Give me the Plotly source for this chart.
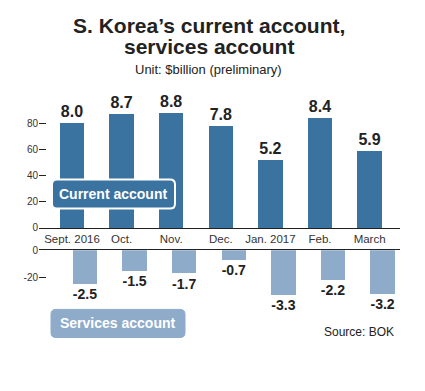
import plotly.graph_objects as go

W, H = 425, 391

months = ["Sept. 2016", "Oct.", "Nov.", "Dec.", "Jan. 2017", "Feb.", "March"]
current_account = [8.0, 8.7, 8.8, 7.8, 5.2, 8.4, 5.9]
services_account = [-2.5, -1.5, -1.7, -0.7, -3.3, -2.2, -3.2]
top_tick_vals = [0, 2, 4, 6, 8]
top_tick_text = ["0", "20", "40", "60", "80"]
bot_tick_vals = [0, -2]
bot_tick_text = ["0", "-20"]

DARK = "#3a72a0"
LIGHT = "#8eabca"
TXT = "#222222"
FONT = "Liberation Sans, Arial, sans-serif"


def px(x):
    return x / W


def py(y):
    return 1 - y / H


xs = list(range(len(months)))

fig = go.Figure()
fig.add_trace(go.Bar(
    x=xs, y=current_account, xaxis="x", yaxis="y",
    marker=dict(color=DARK, line=dict(width=0)), width=0.49,
    text=[f"{v:.1f}" for v in current_account], textposition="outside",
    textfont=dict(family=FONT, size=16, color=TXT, weight="bold"),
    cliponaxis=False, showlegend=False, hoverinfo="skip",
))
fig.add_trace(go.Bar(
    x=xs, y=services_account, xaxis="x2", yaxis="y2",
    marker=dict(color=LIGHT, line=dict(width=0)), width=0.49,
    text=[f"{v:.1f}" for v in services_account], textposition="outside",
    textfont=dict(family=FONT, size=16, color=TXT, weight="bold"),
    cliponaxis=False, showlegend=False, hoverinfo="skip",
))

sp = 49.6  # px per category
x_left, x_right = 39, 400
top_c0 = 72
bot_c0 = 85
top_range = [-(top_c0 - x_left) / sp, 6 + (x_right - (top_c0 + 6 * sp)) / sp]
bot_range = [-(bot_c0 - x_left) / sp, 6 + (x_right - (bot_c0 + 6 * sp)) / sp]

top_scale = 13.5
bot_scale = 14.0
top_y0, top_y1 = 229, 95
bot_y0, bot_y1 = 252, 320

fig.update_layout(
    width=W, height=H,
    margin=dict(l=0, r=0, t=0, b=0),
    paper_bgcolor="white", plot_bgcolor="white",
    bargap=0,
    xaxis=dict(domain=[px(x_left), px(x_right)], range=top_range, anchor="y",
               tickvals=xs, ticktext=months, showgrid=False, zeroline=False,
               showline=True, linecolor=TXT, linewidth=1.5, ticks="",
               tickfont=dict(family=FONT, size=11.5, color="#333333"),
               fixedrange=True),
    yaxis=dict(domain=[py(top_y0), py(top_y1)], range=[0, (top_y0 - top_y1) / top_scale],
               anchor="x",
               tickvals=top_tick_vals, ticktext=top_tick_text,
               showgrid=False, zeroline=False, showline=False,
               ticks="inside", ticklen=7, tickcolor=TXT, tickwidth=1,
               tickfont=dict(family=FONT, size=10, color="#333333")),
    xaxis2=dict(domain=[px(x_left), px(x_right)], range=bot_range, anchor="y2",
                side="top", showticklabels=False, showgrid=False, zeroline=False,
                showline=True, linecolor=TXT, linewidth=1.5, ticks=""),
    yaxis2=dict(domain=[py(bot_y1), py(bot_y0)], range=[-(bot_y1 - bot_y0) / bot_scale, 0],
                anchor="x2",
                tickvals=bot_tick_vals, ticktext=bot_tick_text,
                showgrid=False, zeroline=False, showline=False,
                ticks="inside", ticklen=7, tickcolor=TXT, tickwidth=1,
                tickfont=dict(family=FONT, size=10, color="#333333")),
)


def rounded_rect(x0, y0, x1, y1, r):
    rx, ry = r / W, r / H
    X0, X1 = px(x0), px(x1)
    Y0, Y1 = py(y0), py(y1)
    return (f"M {X0 + rx},{Y0} L {X1 - rx},{Y0} Q {X1},{Y0} {X1},{Y0 - ry} "
            f"L {X1},{Y1 + ry} Q {X1},{Y1} {X1 - rx},{Y1} "
            f"L {X0 + rx},{Y1} Q {X0},{Y1} {X0},{Y1 + ry} "
            f"L {X0},{Y0 - ry} Q {X0},{Y0} {X0 + rx},{Y0} Z")


fig.add_shape(type="path", xref="paper", yref="paper",
              path=rounded_rect(52, 179, 175, 209, 5),
              fillcolor=DARK, line=dict(color="white", width=2), layer="above")
fig.add_shape(type="path", xref="paper", yref="paper",
              path=rounded_rect(51, 313, 185, 342, 5),
              fillcolor=LIGHT, line=dict(color=LIGHT, width=1), layer="above")

ann = []
ann.append(dict(x=px(113.5), y=py(194), text="<b>Current account</b>",
                font=dict(family=FONT, size=14, color="white")))
ann.append(dict(x=px(118), y=py(327.5), text="<b>Services account</b>",
                font=dict(family=FONT, size=14, color="white")))
ann.append(dict(x=px(209), y=py(20), text="<b>S. Korea’s current account,</b>",
                font=dict(family=FONT, size=21, color=TXT)))
ann.append(dict(x=px(209), y=py(42), text="<b>services account</b>",
                font=dict(family=FONT, size=21, color=TXT)))
ann.append(dict(x=px(208), y=py(65), text="Unit: $billion (preliminary)",
                font=dict(family=FONT, size=13, color=TXT)))
ann.append(dict(x=px(396), y=py(336.5), text="Source: BOK", xanchor="right",
                font=dict(family=FONT, size=12, color=TXT)))
for a in ann:
    a.setdefault("xanchor", "center")
    a.update(xref="paper", yref="paper", yanchor="middle", showarrow=False)
    fig.add_annotation(**a)

fig.write_html("out.html", config={"displayModeBar": False, "staticPlot": True},
               post_script="document.body.style.margin='0';document.body.style.overflow='hidden';")
